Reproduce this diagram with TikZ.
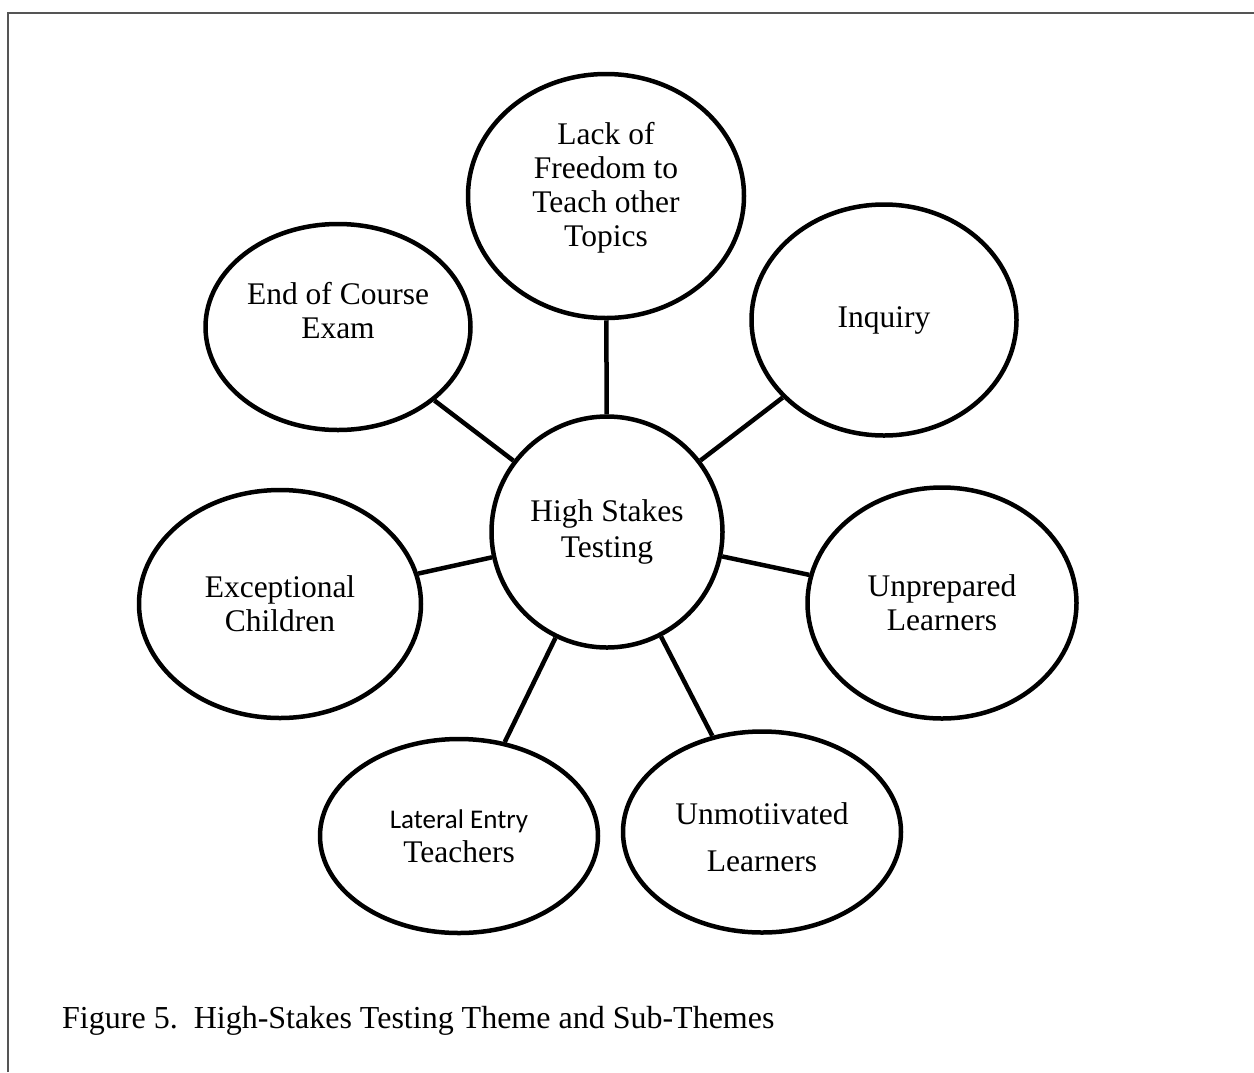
\documentclass[tikz,border=0pt]{standalone}
\usepackage{fontspec}
\setmainfont{Liberation Serif}
\newfontfamily\calibfont{Carlito}
\usetikzlibrary{shapes.geometric}
\definecolor{framegray}{HTML}{555555}
\begin{document}
\begin{tikzpicture}[x=1pt,y=-1pt,
  bubble/.style={ellipse,draw=black,line width=4.5pt,inner sep=0pt,align=center,
     font=\fontsize{31.5}{34}\selectfont},
  link/.style={line width=4.5pt,draw=black},
  frameline/.style={line width=2.2pt,draw=framegray}]
\useasboundingbox (0,0) rectangle (1254,1072);
\draw[frameline] (8,1072) -- (8,13) -- (1254,13);

\node[bubble,minimum width=231pt,minimum height=231pt,font=\fontsize{31.5}{36}\selectfont] (hst) at (607,532) {High Stakes\\Testing};
\node[bubble,minimum width=276pt,minimum height=244pt,text depth=23pt] (lack) at (606,196) {Lack of\\Freedom to\\Teach other\\Topics};
\node[bubble,minimum width=265pt,minimum height=206pt,text depth=33pt] (eoc) at (338,327) {End of Course\\Exam};
\node[bubble,minimum width=265pt,minimum height=231pt] (inq) at (884,320) {Inquiry};
\node[bubble,minimum width=282pt,minimum height=228pt] (exc) at (280,604) {Exceptional\\Children};
\node[bubble,minimum width=269pt,minimum height=231pt] (unp) at (942,603) {Unprepared\\Learners};
\node[bubble,minimum width=278pt,minimum height=194pt] (lat) at (459,836) {{\calibfont\fontsize{27}{34}\selectfont Lateral Entry}\\Teachers};
\node[bubble,minimum width=278pt,minimum height=201pt] (unm) at (762,832) {\rule{0pt}{32pt}Unmotiivated\\[13pt]Learners};

\draw[link] (lack) -- (hst);
\draw[link] (eoc) -- (hst);
\draw[link] (inq) -- (hst);
\draw[link] (exc) -- (hst);
\draw[link] (unp) -- (hst);
\draw[link] (lat) -- (hst);
\draw[link] (unm) -- (hst);

\node[anchor=base west,inner sep=0pt,font=\fontsize{32}{34}\selectfont] (cap) at (62,1028) {Figure 5.\ \ High-Stakes Testing Theme and Sub-Themes};
\end{tikzpicture}
\end{document}
